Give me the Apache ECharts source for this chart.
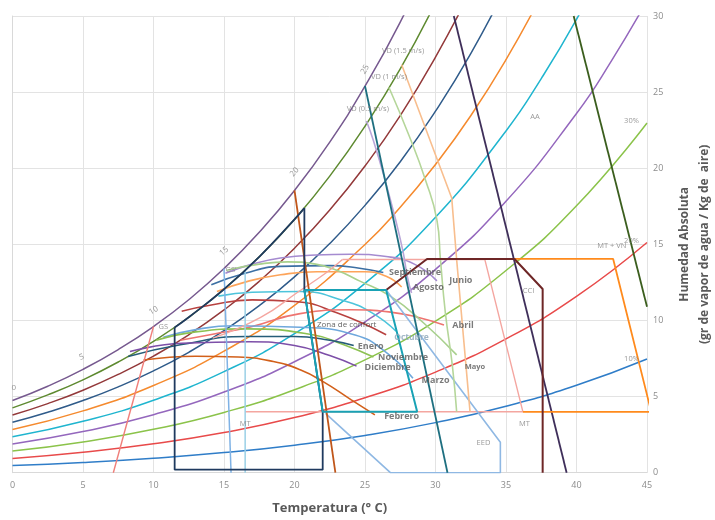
<!DOCTYPE html>
<html><head><meta charset="utf-8">
<script src="https://cdn.jsdelivr.net/npm/echarts@6/dist/echarts.min.js"></script>
<style>html,body{margin:0;padding:0;background:#fff}#c{width:715px;height:520px}</style>
</head><body><div id="c"></div>
<script>
// ---- Relative humidity curves (temperature, g/kg) ----
const rh100 = [[0,4.74],[2.5,5.68],[5,6.79],[7.5,8.09],[10,9.60],[12.5,11.36],[15,13.41],[17.5,15.79],[20,18.54],[22.5,21.72],[25,25.39],[27.5,29.60],[30,34.5]];
const rh90 = [[0,4.26],[2.5,5.11],[5,6.10],[7.5,7.27],[10,8.63],[12.5,10.21],[15,12.05],[17.5,14.18],[20,16.64],[22.5,19.48],[25,22.76],[27.5,26.52],[30,30.87]];
const rh80 = [[0,3.79],[2.5,4.54],[5,5.42],[7.5,6.46],[10,7.66],[12.5,9.06],[15,10.69],[17.5,12.57],[20,14.75],[22.5,17.26],[25,20.15],[27.5,23.46],[30,27.30],[32.5,31.67]];
const rh70 = [[0,3.31],[2.5,3.97],[5,4.74],[7.5,5.64],[10,6.69],[12.5,7.91],[15,9.33],[17.5,10.97],[20,12.86],[22.5,15.05],[25,17.56],[27.5,20.43],[30,23.75],[32.5,27.53],[35,31.89]];
const rh60 = [[0,2.84],[5,4.06],[10,5.73],[15,7.98],[20,10.99],[25,14.99],[27.5,17.43],[30,20.25],[32.5,23.45],[35,27.13],[37.5,31.33]];
const rh50 = [[0,2.36],[5,3.38],[10,4.76],[15,6.64],[20,9.13],[25,12.44],[30,16.78],[35,22.45],[37.5,25.89],[40,29.78],[42.5,34.2]];
const rh40 = [[0,1.89],[5,2.70],[10,3.81],[15,5.30],[20,7.29],[25,9.91],[30,13.36],[35,17.83],[40,23.60],[42.5,27.09],[45,31.0]];
const rh30 = [[0,1.42],[5,2.02],[10,2.85],[15,3.96],[20,5.45],[25,7.41],[30,9.96],[35,13.28],[40,17.53],[45,22.97]];
const rh20 = [[0,0.94],[5,1.35],[10,1.90],[15,2.64],[20,3.62],[25,4.92],[30,6.61],[35,8.79],[40,11.58],[45,15.12]];
const rh10 = [[0,0.47],[5,0.67],[10,0.95],[15,1.32],[20,1.81],[25,2.45],[30,3.29],[35,4.36],[40,5.74],[45,7.47]];

// ---- Monthly lines ----
const junio = [[15.1,13.1],[17,13.7],[19,14.1],[21.5,14.3],[24,14.35],[26.5,14.2],[28.5,13.7],[30.1,12.6]];
const septiembre = [[14.1,12.35],[16.5,13.1],[19,13.55],[22.5,13.6],[24.5,13.45],[26.3,13.15]];
const agosto = [[14.5,11.9],[16.8,12.6],[19,13.0],[21.6,13.2],[25,13.2],[26.5,12.9],[27.6,12.2]];
const octubre = [[14.6,11.6],[17,11.85],[20.4,11.9],[23.5,11.3],[25.5,10.5],[27.2,9.3]];
const julio = [[12.0,10.6],[14,11.0],[17,11.35],[20,11.25],[23,10.5],[26.5,9.06]];
const abril = [[11.9,8.7],[14.2,9.1],[16.8,9.55],[20.4,10.45],[24,10.7],[26.8,10.55],[28.8,10.2],[30.6,9.7]];
const marzo = [[10.7,8.9],[13,9.4],[15.7,9.65],[20.4,9.55],[24.3,9.05],[26.5,7.9],[28.4,6.2]];
const noviembre = [[10.2,8.7],[13,9.25],[16.6,9.45],[21.3,9.06],[23.5,8.4],[25.6,7.6]];
const enero = [[8.2,7.63],[11.9,8.4],[16.6,8.95],[20,8.95],[22.5,8.7],[24.2,8.35]];
const diciembre = [[8.33,7.96],[12,8.5],[16.8,8.6],[20,8.35],[22.5,7.7],[24.4,7.0]];
const febrero = [[9.3,7.4],[13,7.65],[16,7.6],[18.5,7.3],[20.4,6.76],[22,6.0],[24,4.8],[25.7,3.8]];
const mayo = [[15.2,13.3],[17.5,13.7],[19.5,13.85],[21.5,13.7],[23,13.3],[24.6,12.6],[26.8,11.6],[29.2,9.8],[31.5,7.74]];

// ---- Zone boundaries ----
const comfortZone = [[20.7,12],[26.5,12],[28.7,4],[22.0,4],[20.7,12]];
const gsZoneStraight = [[20.7,17.38],[20.7,12],[22,4],[22,0.2],[11.5,0.2],[11.5,9.54]];
const gsZoneCurve = [[11.5,9.54],[12.5,10.21],[15,12.05],[17.5,14.18],[20,16.64],[20.7,17.38]];
const cciZone = [[26.5,12.0],[29.4,14.04],[35.6,14.04],[37.6,12.07],[37.6,0]];
const mtvnZone = [[29.4,14.04],[42.6,14.04],[45.3,4.0],[36.2,4.0]];
const mtZone = [[23.4,14.0],[33.5,14.0],[36.2,4.0],[16.5,4.0]];
const mtCurve = [[14.2,8.84],[17.6,10.2],[20.3,11.9],[22.2,13.1],[23.4,14.0]];
const eedZone = [[26.5,12.0],[34.6,2.0],[34.6,0],[26.8,0],[22.2,3.9]];
const gsLine = [[7.15,0],[10.0,9.6]];
const gsPrimeLine = [[15.0,13.41],[15.5,0]];
const mtLeftLine = [[16.5,13.3],[16.5,0]];
const vd05 = [[25.1,23.1],[25.6,21.8],[26.4,19.3],[27.2,16.5],[27.7,14.5],[28.0,12.9],[28.3,11.8]];
const vd1 = [[26.7,25.3],[28.1,22.2],[29.3,19.2],[30.1,16.6],[30.35,14],[30.7,10.5],[31.2,7],[31.5,4.0]];
const vd15 = [[27.6,26.8],[31.15,18.05],[31.5,14],[32.45,4.0]];
const vdTeal = [[25.0,25.4],[30.85,0]];
const ccLine = [[31.3,30],[39.3,0]];
const aaLine = [[39.8,30],[45,10.9]];
const orangeLine = [[20.0,18.54],[22.9,0]];

// ---- Text annotations ----
const wetBulbLabels = [[0.1,5.6,'0'],[4.9,7.6,'5'],[10,10.65,'10'],[15,14.55,'15'],[20,19.75,'20'],[25,26.5,'25']];
const wetBulbRot = [0,20,30,40,50,60];
const zoneLabels = [[10.7,9.6,'GS'],[15.5,13.3,"GS'"],[27.7,27.7,'VD (1.5 m/s)'],[26.7,26.0,'VD (1 m/s)'],[25.2,23.9,'VD (0.5 m/s)'],
  [37.06,23.4,'AA'],[43.9,23.1,'30%'],[42.5,14.9,'MT + VN'],[43.9,15.2,'20%'],[43.9,7.5,'10%'],[36.6,11.95,'CCI'],
  [36.3,3.2,'MT'],[33.4,1.95,'EED'],[16.5,3.2,'MT']];
const comfortLabel = [[23.7,9.75,'Zona de confort']];
const monthLabels = [[28.55,13.15,'Septiembre'],[29.5,12.2,'Agosto'],[31.8,12.6,'Junio'],[31.95,9.7,'Abril'],
  [25.4,8.27,'Enero'],[27.7,7.55,'Noviembre'],[26.6,6.9,'Diciembre'],[30.0,6.04,'Marzo'],[27.6,3.7,'Febrero']];
const smallMonthLabels = [[32.8,6.95,'Mayo']];
const fadedMonthLabels = [[28.3,8.9,'Octubre']];

function ln(data, color, width, smooth, z) {
  return {type:'line', data:data, symbol:'none', showSymbol:false, smooth: smooth ? 0.5 : false,
    lineStyle:{color:color, width:width}, itemStyle:{color:color},
    silent:true, animation:false, clip:true, z: z || 2};
}
function txt(data, style, rots) {
  return {type:'scatter', symbolSize:1, itemStyle:{color:'rgba(0,0,0,0)'}, silent:true, animation:false, z:10,
    data: data.map((d,i) => ({value:[d[0],d[1]], name:d[2], label: rots ? {rotate: rots[i]} : undefined})),
    label:Object.assign({show:true, position:'inside', formatter: p => p.name, fontFamily:'Open Sans'}, style)};
}

const series = [
  ln(rh10,'#2F7DC8',1.5,true), ln(rh20,'#E84A4A',1.5,true), ln(rh30,'#8BC34A',1.5,true), ln(rh40,'#9467BD',1.5,true),
  ln(rh50,'#1FB5CF',1.5,true), ln(rh60,'#F58A2E',1.5,true), ln(rh70,'#2F5B8A',1.5,true), ln(rh80,'#93393A',1.5,true),
  ln(rh90,'#5E8A30',1.5,true), ln(rh100,'#76598F',1.5,true),
  ln(junio,'#A58BD0',1.6,true,3), ln(septiembre,'#3C6FA3',1.6,true,3), ln(agosto,'#FDA45A',1.6,true,3),
  ln(octubre,'#4DC4DB',1.6,true,3), ln(julio,'#B8413F',1.6,true,3), ln(abril,'#EE7470',1.6,true,3),
  ln(marzo,'#6FA8DC',1.6,true,3), ln(noviembre,'#8CC152',1.6,true,3), ln(enero,'#265C78',1.6,true,3),
  ln(diciembre,'#7D4FA8',1.6,true,3), ln(febrero,'#D2601A',1.6,true,3), ln(mayo,'#A8D08D',1.6,true,3),
  ln(mtCurve,'#F4A6A0',1.4,true,4), ln(mtZone,'#F4A6A0',1.4,false,4),
  ln(gsLine,'#F07F7A',1.4,false,4), ln(gsPrimeLine,'#7FB2E5',1.5,false,4), ln(mtLeftLine,'#9AD0E6',1.5,false,4),
  ln(eedZone,'#8FB8E3',1.6,false,4),
  ln(vd05,'#B9A5D8',1.6,true,4), ln(vd1,'#B5D69A',1.6,true,4), ln(vd15,'#F8BE8E',1.6,false,4),
  ln(vdTeal,'#1E6F80',1.8,false,5), ln(ccLine,'#3F2F5A',1.8,false,5), ln(aaLine,'#3B5E1E',1.8,false,5),
  ln(orangeLine,'#C0561A',1.8,false,5),
  ln(gsZoneStraight,'#1F3A5F',1.8,false,5), ln(gsZoneCurve,'#1F3A5F',1.8,true,5),
  ln(mtvnZone,'#FF8A1C',1.8,false,5), ln(cciZone,'#6E2626',2,false,6),
  ln(comfortZone,'#19A2B5',2,false,6),
  txt(wetBulbLabels,{fontSize:8, color:'#808080'}, wetBulbRot),
  txt(zoneLabels,{fontSize:7.5, color:'#7f7f7f'}),
  txt(comfortLabel,{fontSize:8, color:'#404040'}),
  txt(monthLabels,{fontSize:9, fontWeight:'bold', color:'#595959'}),
  txt(smallMonthLabels,{fontSize:7.5, fontWeight:'bold', color:'#595959'}),
  txt(fadedMonthLabels,{fontSize:8.5, fontWeight:'bold', color:'#8aa4b8'})
];

const chart = echarts.init(document.getElementById('c'), null, {renderer:'canvas'});
chart.setOption({
  animation:false,
  backgroundColor:'#fff',
  grid:{left:12.5, right:68, top:16, bottom:47.3, containLabel:false, outerBoundsMode:'none'},
  xAxis:{type:'value', min:0, max:45, interval:5,
    axisLine:{show:true, lineStyle:{color:'#d9d9d9'}}, axisTick:{show:false},
    axisLabel:{color:'#8c8c8c', fontSize:9, margin:8, fontFamily:'Open Sans'},
    splitLine:{show:true, lineStyle:{color:'#e3e3e3', width:1}},
    name:'Temperatura (° C)', nameLocation:'middle', nameGap:29,
    nameTextStyle:{color:'#595959', fontSize:13, fontWeight:'bold', fontFamily:'Open Sans'}},
  yAxis:{type:'value', position:'right', min:0, max:30, interval:5,
    axisLine:{show:true, lineStyle:{color:'#d9d9d9'}}, axisTick:{show:false},
    axisLabel:{color:'#8c8c8c', fontSize:9, margin:6, fontFamily:'Open Sans'},
    splitLine:{show:true, lineStyle:{color:'#e3e3e3', width:1}},
    name:'Humedad Absoluta\n(gr de vapor de agua / Kg de  aire)', nameLocation:'middle', nameRotate:90, nameGap:25,
    nameTextStyle:{color:'#595959', fontSize:12, fontWeight:'bold', fontFamily:'Open Sans', lineHeight:20, align:'center'}},
  series: series
});
</script></body></html>
